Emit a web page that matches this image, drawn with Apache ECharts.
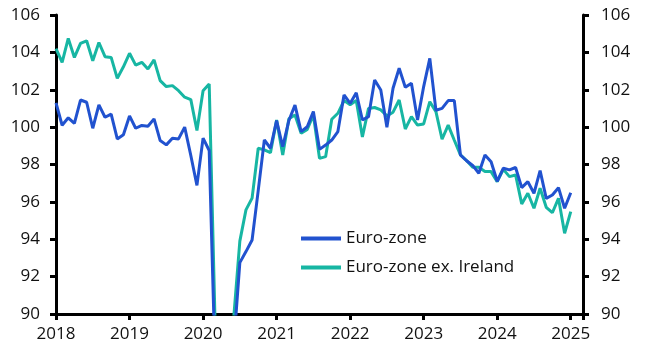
<!DOCTYPE html>
<html>
<head>
<meta charset="utf-8">
<script src="https://cdn.jsdelivr.net/npm/echarts@6/dist/echarts.min.js"></script>
<style>html,body{margin:0;padding:0;background:#fff}#c{width:645px;height:354px}</style>
</head>
<body>
<div id="c"></div>
<script>
// Monthly observations, Jan 2018 .. Jan 2025
var startYear = 2018;
var yearTicks = [2018, 2019, 2020, 2021, 2022, 2023, 2024, 2025];
var seriesNames = ['Euro-zone', 'Euro-zone ex. Ireland'];

var euroZone = [
  101.3, 100.1, 100.5, 100.2, 101.45, 101.33, 99.94, 101.19, 100.53, 100.7, 99.37, 99.59,
  100.6, 99.94, 100.09, 100.05, 100.44, 99.28, 99.05, 99.41, 99.37, 100.0, 98.48, 96.88,
  99.41, 98.75, 87.0, 75.0, 82.0, 88.3, 92.75, 93.34, 93.96, 96.6, 99.31, 98.87,
  100.35, 98.95, 100.35, 101.18, 99.76, 100.02, 100.83, 98.81, 99.04, 99.31, 99.76, 101.72,
  101.27, 101.84, 100.38, 100.56, 102.52, 101.99, 99.99, 102.08, 103.15, 102.13, 102.35, 100.38,
  102.17, 103.68, 100.9, 101.0, 101.42, 101.42, 98.51, 98.2, 97.95, 97.53, 98.51, 98.15,
  97.1, 97.8, 97.71, 97.84, 96.76, 97.08, 96.46, 97.67, 96.19, 96.37, 96.76, 95.66,
  96.49
];
var euroZoneExIreland = [
  104.2, 103.47, 104.75, 103.73, 104.48, 104.62, 103.55, 104.53, 103.77, 103.73, 102.61, 103.23,
  103.95, 103.32, 103.47, 103.11, 103.6, 102.49, 102.17, 102.22, 101.95, 101.6, 101.47, 99.82,
  101.95, 102.31, 89.0, 78.0, 84.0, 89.8, 93.9, 95.57, 96.2, 98.87, 98.78, 98.63,
  100.38, 98.51, 100.45, 100.65, 99.67, 99.88, 100.65, 98.33, 98.42, 100.42, 100.74, 101.42,
  101.2, 101.42, 99.47, 101.0, 101.05, 100.92, 100.6, 100.8, 101.45, 99.9, 100.56, 100.11,
  100.17, 101.36, 100.83, 99.35, 100.11, 99.3, 98.51, 98.21, 97.85, 97.85, 97.62, 97.62,
  97.08, 97.74, 97.35, 97.44, 95.89, 96.46, 95.66, 96.73, 95.71, 95.42, 96.19, 94.32,
  95.48
];

function pairs(arr){ return arr.map(function(v,i){ return [i, v]; }); }

var FONT = 'Open Sans';
var chart = echarts.init(document.getElementById('c'), null, {renderer:'canvas'});
var axisCommon = {
  axisLine:{show:true, lineStyle:{color:'#000', width:3}},
  axisTick:{show:true, length:6, lineStyle:{color:'#000', width:3}},
  splitLine:{show:false}
};
chart.setOption({
  animation:false,
  backgroundColor:'#fff',
  grid:{left:56, right:62, top:15, bottom:40, containLabel:false},
  legend:{
    orient:'vertical', left:296, top:225,
    itemWidth:40, itemHeight:4, itemGap:12,
    icon:'rect',
    textStyle:{fontFamily:FONT, fontSize:17, color:'#111'},
    data:seriesNames
  },
  xAxis:Object.assign({}, axisCommon, {
    type:'value', min:0, max:86, interval:12,
    axisLabel:{fontFamily:FONT, fontSize:17, color:'#111', margin:12,
      formatter:function(v){ return v % 12 === 0 ? String(yearTicks[v/12]) : ''; }}
  }),
  yAxis:[
    Object.assign({}, axisCommon, {
      type:'value', min:90, max:106, interval:2, position:'left',
      axisLabel:{fontFamily:FONT, fontSize:17, color:'#111', margin:16}
    }),
    Object.assign({}, axisCommon, {
      type:'value', min:90, max:106, interval:2, position:'right',
      axisLabel:{fontFamily:FONT, fontSize:17, color:'#111', margin:18}
    })
  ],
  series:[
    {name:seriesNames[0], type:'line', data:pairs(euroZone), showSymbol:false, symbol:'none',
     lineStyle:{color:'#2152cf', width:3}, itemStyle:{color:'#2152cf'}, clip:true, z:3},
    {name:seriesNames[1], type:'line', data:pairs(euroZoneExIreland), showSymbol:false, symbol:'none',
     lineStyle:{color:'#17b6a3', width:3}, itemStyle:{color:'#17b6a3'}, clip:true, z:2}
  ]
});
</script>
</body>
</html>
